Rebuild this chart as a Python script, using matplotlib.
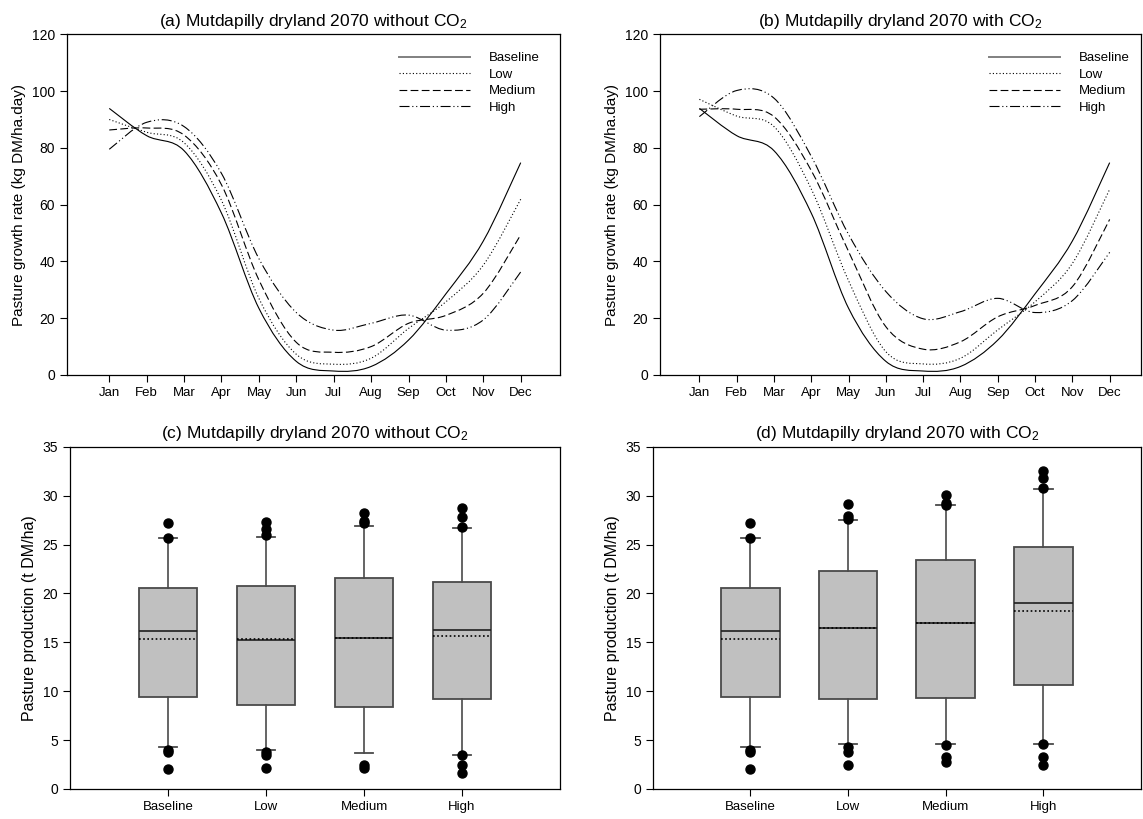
import numpy as np
import matplotlib
matplotlib.use("Agg")
import matplotlib.pyplot as plt
from matplotlib.path import Path
from matplotlib.patches import PathPatch
from matplotlib.lines import Line2D

plt.rcParams['font.family'] = ['Liberation Sans', 'DejaVu Sans']
plt.rcParams['mathtext.fontset'] = 'custom'
plt.rcParams['mathtext.rm'] = 'Liberation Sans'
plt.rcParams['mathtext.it'] = 'Liberation Sans:italic'

# monthly pasture growth rate (kg DM/ha.day)
months = ['Jan', 'Feb', 'Mar', 'Apr', 'May', 'Jun', 'Jul', 'Aug', 'Sep', 'Oct', 'Nov', 'Dec']
scenarios = ['Baseline', 'Low', 'Medium', 'High']

baseline = [93.9, 84.3, 79.0, 57.0, 23.5, 4.8, 1.4, 3.0, 12.3, 28.6, 47.2, 74.8]
noco2_low = [90.0, 85.5, 81.8, 61.5, 27.0, 7.3, 3.8, 5.9, 16.4, 25.8, 38.7, 61.9]
noco2_med = [86.3, 87.0, 84.5, 67.0, 33.5, 11.5, 8.0, 10.0, 18.2, 21.0, 28.8, 49.4]
noco2_high = [79.5, 89.0, 87.5, 71.0, 41.0, 22.0, 15.8, 18.2, 21.1, 15.8, 19.4, 36.3]

co2_low = [97.1, 91.2, 87.5, 65.5, 33.2, 8.2, 3.9, 5.9, 15.9, 25.8, 39.3, 65.4]
co2_med = [93.6, 93.6, 91.0, 72.0, 43.5, 17.0, 9.1, 11.7, 20.5, 24.5, 31.1, 54.8]
co2_high = [91.0, 100.2, 97.5, 77.0, 49.5, 29.4, 19.8, 22.3, 27.0, 22.0, 26.2, 43.2]

# annual pasture production box statistics (t DM/ha)
# q1, median, mean, q3, lower whisker, upper whisker
noco2_q1 = [9.37, 8.62, 8.42, 9.17]
noco2_med_prod = [16.19, 15.24, 15.44, 16.29]
noco2_mean = [15.34, 15.30, 15.47, 15.61]
noco2_q3 = [20.52, 20.79, 21.61, 21.13]
noco2_wlo = [4.33, 4.02, 3.65, 3.51]
noco2_whi = [25.63, 25.80, 26.89, 26.65]
noco2_fliers = [[27.16, 25.70, 3.99, 3.78, 2.08],
                [27.30, 26.60, 25.97, 3.82, 3.48, 2.11],
                [28.19, 27.40, 27.16, 2.45, 2.18],
                [28.77, 27.78, 26.75, 3.51, 2.49, 1.67]]

co2_q1 = [9.37, 9.24, 9.30, 10.60]
co2_med_prod = [16.19, 16.43, 16.94, 18.98]
co2_mean = [15.34, 16.46, 17.00, 18.20]
co2_q3 = [20.52, 22.26, 23.45, 24.78]
co2_wlo = [4.33, 4.60, 4.60, 4.60]
co2_whi = [25.63, 27.47, 29.00, 30.67]
co2_fliers = [[27.16, 25.70, 3.99, 3.78, 2.08],
              [29.17, 27.90, 27.64, 4.33, 3.82, 2.45],
              [30.06, 29.24, 29.04, 4.50, 3.31, 2.73],
              [32.51, 31.80, 30.81, 4.60, 3.31, 2.45]]

styles = ['-', (0, (1, 2)), (0, (7, 3)), (0, (9, 2.5, 1, 2.5, 1, 2.5))]
W, H = 1143, 819


def smooth_path(x, y):
    # cubic bezier segments through every monthly value
    x = np.asarray(x, float)
    y = np.asarray(y, float)
    px = np.concatenate([[x[0]], x, [x[-1]]])
    py = np.concatenate([[y[0]], y, [y[-1]]])
    verts = [(x[0], y[0])]
    codes = [Path.MOVETO]
    for i in range(len(x) - 1):
        j = i + 1
        c1 = (px[j] + (px[j + 1] - px[j - 1]) / 6, py[j] + (py[j + 1] - py[j - 1]) / 6)
        c2 = (px[j + 1] - (px[j + 2] - px[j]) / 6, py[j + 1] - (py[j + 2] - py[j]) / 6)
        verts += [c1, c2, (x[i + 1], y[i + 1])]
        codes += [Path.CURVE4] * 3
    return Path(verts, codes)


def growth_panel(ax, series, title, xlim, leg_x):
    x = np.arange(1, 13)
    handles = []
    for vals, ls, lab in zip(series, styles, scenarios):
        ax.add_patch(PathPatch(smooth_path(x, vals), fill=False, ec='black',
                               lw=0.8, ls=ls, capstyle='butt'))
        handles.append(Line2D([], [], color='black', lw=0.8 if lab != 'Baseline' else 1.4,
                              ls=ls, label=lab))
    ax.set_xlim(*xlim)
    ax.set_ylim(0, 120)
    ax.set_xticks(x)
    ax.set_xticklabels(months)
    ax.set_yticks(np.arange(0, 121, 20))
    ax.set_ylabel('Pasture growth rate (kg DM/ha.day)', fontsize=11)
    ax.set_title(title, fontsize=12.5, pad=6)
    leg = ax.legend(handles=handles, loc='upper left', bbox_to_anchor=(leg_x, 0.948),
                    frameon=False, fontsize=9.5, handlelength=5.4, handletextpad=1.4,
                    labelspacing=0.33, borderpad=0, borderaxespad=0)
    leg.get_lines()[0].set_color('#808080')


def box_panel(ax, q1, med, mean, q3, wlo, whi, fliers, title):
    stats = []
    for i in range(4):
        stats.append(dict(q1=q1[i], med=med[i], mean=mean[i], q3=q3[i],
                          whislo=wlo[i], whishi=whi[i], fliers=fliers[i]))
    ax.bxp(stats, positions=[1, 2, 3, 4], widths=0.6, capwidths=0.19,
           showmeans=True, meanline=True, patch_artist=True,
           boxprops=dict(facecolor='#c0c0c0', edgecolor='#4a4a4a', lw=1.3),
           medianprops=dict(color='#202020', lw=1.2),
           meanprops=dict(color='black', ls=(0, (1, 1.5)), lw=1.2),
           whiskerprops=dict(color='#4a4a4a', lw=1.2),
           capprops=dict(color='#4a4a4a', lw=1.3),
           flierprops=dict(marker='o', mfc='black', mec='black', ms=6.5))
    ax.set_xlim(0, 5)
    ax.set_ylim(0, 35)
    ax.set_yticks(np.arange(0, 36, 5))
    ax.set_xticks([1, 2, 3, 4])
    ax.set_xticklabels(scenarios)
    ax.set_ylabel('Pasture production (t DM/ha)', fontsize=11.5)
    ax.set_title(title, fontsize=12.5, pad=6)


fig = plt.figure(figsize=(W / 100, H / 100), dpi=100)
ax_a = fig.add_axes([67 / W, 1 - 375 / H, 493 / W, 340.7 / H])
ax_b = fig.add_axes([660 / W, 1 - 375 / H, 481 / W, 340.7 / H])
ax_c = fig.add_axes([70 / W, 1 - 789 / H, 490 / W, 342.3 / H])
ax_d = fig.add_axes([652.8 / W, 1 - 789 / H, 488.2 / W, 342.3 / H])

growth_panel(ax_a, [baseline, noco2_low, noco2_med, noco2_high],
             '(a) Mutdapilly dryland 2070 without CO$_2$', (-0.13, 13.05), 0.673)
growth_panel(ax_b, [baseline, co2_low, co2_med, co2_high],
             '(b) Mutdapilly dryland 2070 with CO$_2$', (-0.056, 12.84), 0.684)
box_panel(ax_c, noco2_q1, noco2_med_prod, noco2_mean, noco2_q3, noco2_wlo, noco2_whi,
          noco2_fliers, '(c) Mutdapilly dryland 2070 without CO$_2$')
box_panel(ax_d, co2_q1, co2_med_prod, co2_mean, co2_q3, co2_wlo, co2_whi,
          co2_fliers, '(d) Mutdapilly dryland 2070 with CO$_2$')

for ax in (ax_a, ax_b, ax_c, ax_d):
    ax.tick_params(axis='y', labelsize=10, length=5, width=0.8, direction='out')
    ax.tick_params(axis='x', labelsize=9.5, length=5, width=0.8, direction='out')
    for sp in ax.spines.values():
        sp.set_linewidth(0.9)

fig.savefig('out.png', dpi=100)
